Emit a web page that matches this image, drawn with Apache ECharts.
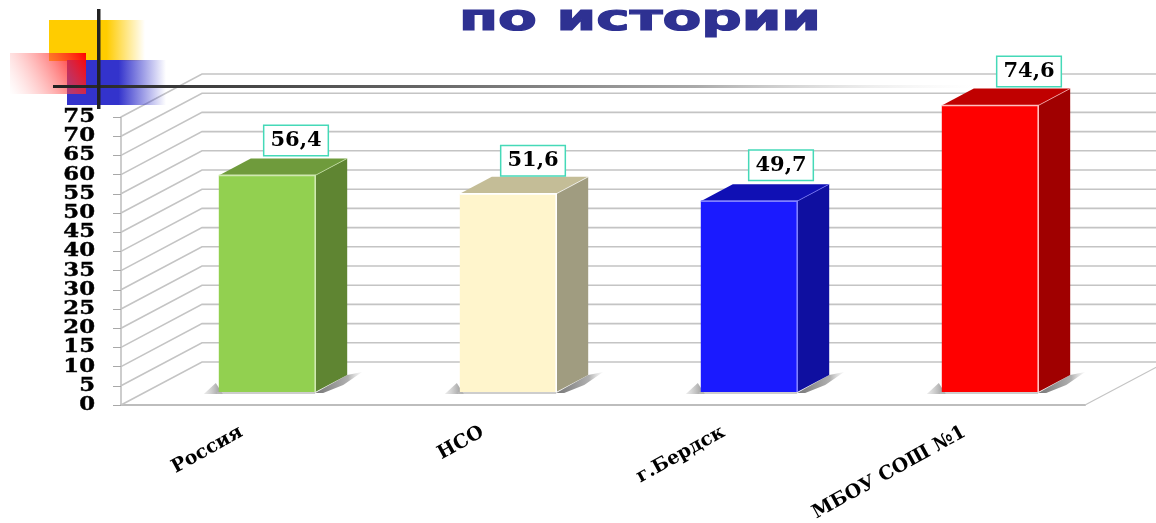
<!DOCTYPE html>
<html>
<head>
<meta charset="utf-8">
<title>по истории</title>
<script src="https://cdn.jsdelivr.net/npm/echarts@6/dist/echarts.min.js"></script>
<style>
  html, body { margin: 0; padding: 0; background: #fff; }
  #chart { width: 1156px; height: 523px; }
</style>
</head>
<body>
<div id="chart"></div>
<script>
const categories = ['Россия', 'НСО', 'г.Бердск', 'МБОУ СОШ №1']
const values = [56.4, 51.6, 49.7, 74.6]
const valueLabels = ['56,4', '51,6', '49,7', '74,6']
const gridTicks = [0, 5, 10, 15, 20, 25, 30, 35, 40, 45, 50, 55, 60, 65, 70, 75]

const frontColors = ['#92d050', '#fff5cc', '#1a1aff', '#ff0000']
const topColors = ['#6f9b3c', '#c4bd97', '#1010b4', '#c00000']
const sideColors = ['#5f8532', '#a09c80', '#0f0fa0', '#a00000']
const edgeColors = ['#cfe8b0', '#ffffff', '#8080ff', '#ffc0c0']
const labelShift = [29, 25, 32, 39]
const labelRise = [35, 33, 36, 34]

const serif = '"DejaVu Serif", "Liberation Serif", serif'
const wallDx = 81, wallDy = -43     // depth of the whole box
const barInX = 25.5, barInY = -13   // where the bar front stands on the floor
const barDx = 32, barDy = -17       // depth of the bar itself

// wall lines and the y numbers: the axis drops labels this tightly packed, so they are drawn here
function renderWall(params, api) {
  const tick = api.value(1)
  const y = api.coord([0, tick])[1]
  const sys = params.coordSys
  const children = [
    {
      type: 'polyline',
      shape: { points: [[sys.x, y], [sys.x + wallDx, y + wallDy], [sys.x + sys.width + wallDx, y + wallDy]] },
      style: { fill: null, stroke: '#c4c4c4', lineWidth: 1.6 }
    },
    {
      type: 'text',
      x: sys.x - 26,
      y: y,
      scaleX: 1.2,
      style: {
        text: String(tick),
        font: 'bold 19px ' + serif,
        fill: '#000',
        stroke: '#000',
        lineWidth: 0.4,
        align: 'right',
        verticalAlign: 'middle'
      }
    }
  ]
  if (tick === 0) {
    children.push({
      type: 'line',
      shape: { x1: sys.x + sys.width, y1: y, x2: sys.x + sys.width + wallDx, y2: y + wallDy },
      style: { stroke: '#c4c4c4', lineWidth: 1.2 }
    })
  }
  return { type: 'group', children }
}

function renderBar(params, api) {
  const i = params.dataIndex
  const base = api.coord([i, 0])
  const top = api.coord([i, api.value(1)])
  const half = api.size([1, 0])[0] * 0.2
  const x0 = base[0] + barInX - half
  const x1 = base[0] + barInX + half
  const yb = base[1] + barInY
  const yt = top[1] + barInY
  return {
    type: 'group',
    children: [
      {
        type: 'polygon',
        shape: { points: [[x0 - 15, yb + 2], [x0 - 3, yb - 9], [x0 + 4, yb + 2]] },
        style: {
          fill: new echarts.graphic.LinearGradient(1, 0, 0, 0, [
            { offset: 0, color: '#8c8c8c' },
            { offset: 1, color: 'rgba(190,190,190,0.3)' }
          ])
        }
      },
      {
        type: 'polygon',
        shape: { points: [[x1, yb + 1], [x1 + barDx, yb + barDy], [x1 + 47, yb - 20], [x1 + 28, yb - 7], [x1 + 8, yb + 1]] },
        style: {
          fill: new echarts.graphic.LinearGradient(0, 0.5, 1, 0.5, [
            { offset: 0, color: '#777' },
            { offset: 0.7, color: '#b0b0b0' },
            { offset: 1, color: 'rgba(220,220,220,0.2)' }
          ])
        }
      },
      {
        type: 'line',
        shape: { x1: x0 - 2, y1: yb + 1, x2: x1, y2: yb + 1 },
        style: { stroke: '#bdbdbd', lineWidth: 1.5 }
      },
      {
        type: 'polygon',
        shape: { points: [[x0, yt], [x1, yt], [x1 + barDx, yt + barDy], [x0 + barDx, yt + barDy]] },
        style: { fill: topColors[i] }
      },
      {
        type: 'polygon',
        shape: { points: [[x1, yt], [x1 + barDx, yt + barDy], [x1 + barDx, yb + barDy], [x1, yb]] },
        style: { fill: sideColors[i] }
      },
      {
        type: 'rect',
        shape: { x: x0, y: yt, width: x1 - x0, height: yb - yt },
        style: { fill: frontColors[i] }
      },
      {
        type: 'polyline',
        shape: { points: [[x0, yt], [x1, yt], [x1, yb]] },
        style: { fill: null, stroke: edgeColors[i], lineWidth: 1.6 }
      },
      {
        type: 'line',
        shape: { x1: x1, y1: yt, x2: x1 + barDx, y2: yt + barDy },
        style: { stroke: edgeColors[i], lineWidth: 1, opacity: 0.7 }
      },
      {
        type: 'text',
        x: x0 + half + labelShift[i],
        y: yt - labelRise[i],
        style: {
          text: valueLabels[i],
          font: 'bold 21px ' + serif,
          fill: '#000',
          align: 'center',
          verticalAlign: 'middle',
          backgroundColor: '#fff',
          borderColor: '#45d9b8',
          borderWidth: 1.5,
          padding: [4, 6, 4, 6]
        }
      }
    ]
  }
}

const chart = echarts.init(document.getElementById('chart'), null, { renderer: 'canvas' })
chart.setOption({
  animation: false,
  backgroundColor: '#fff',
  grid: { left: 121, right: 71, top: 117, bottom: 118, outerBoundsMode: 'none' },
  xAxis: {
    type: 'category',
    data: categories,
    axisLine: { lineStyle: { color: '#bdbdbd', width: 2 } },
    axisTick: { length: 4, lineStyle: { color: '#8a8a8a' } },
    axisLabel: {
      interval: 0,
      rotate: 29,
      margin: 26,
      color: '#000',
      fontFamily: serif,
      fontWeight: 'bold',
      fontSize: 19
    },
    splitLine: { show: false }
  },
  yAxis: {
    type: 'value',
    min: 0,
    max: 75,
    interval: 5,
    axisLine: { show: true, lineStyle: { color: '#bdbdbd', width: 1.5 } },
    axisTick: { show: true, length: 8, lineStyle: { color: '#a8a8a8' } },
    axisLabel: { show: false },
    splitLine: { show: false }
  },
  graphic: [
    {
      type: 'text', x: 459, y: 2.5, scaleX: 1.57, z: 20,
      style: { text: 'по истории', font: 'bold 36px "DejaVu Sans", sans-serif', fill: '#2e3192', stroke: '#2e3192', lineWidth: 1.2 }
    },
    {
      type: 'rect', shape: { x: 49, y: 20, width: 96, height: 41 }, z: 11,
      style: {
        fill: new echarts.graphic.LinearGradient(0, 0, 1, 0, [
          { offset: 0, color: '#ffcc00' }, { offset: 0.6, color: '#ffcc00' }, { offset: 1, color: 'rgba(255,204,0,0)' }
        ])
      }
    },
    {
      type: 'rect', shape: { x: 67, y: 60, width: 99, height: 45 }, z: 11,
      style: {
        fill: new echarts.graphic.LinearGradient(0, 0, 1, 0, [
          { offset: 0, color: '#3333cc' }, { offset: 0.52, color: '#3333cc' }, { offset: 1, color: 'rgba(51,51,204,0)' }
        ])
      }
    },
    {
      type: 'rect', shape: { x: 10, y: 53, width: 76, height: 41 }, z: 12,
      style: {
        fill: new echarts.graphic.LinearGradient(1, 0, 0, 1, [
          { offset: 0, color: '#ff0000' }, { offset: 1, color: 'rgba(255,160,160,0)' }
        ])
      }
    },
    {
      type: 'rect', shape: { x: 53, y: 85, width: 920, height: 3 }, z: 13,
      style: {
        fill: new echarts.graphic.LinearGradient(0, 0, 1, 0, [
          { offset: 0, color: '#222' }, { offset: 0.4, color: '#666' }, { offset: 0.7, color: '#aaa' }, { offset: 1, color: 'rgba(230,230,230,0)' }
        ])
      }
    },
    {
      type: 'rect', shape: { x: 97, y: 9, width: 3.5, height: 100 }, z: 14,
      style: { fill: '#222' }
    }
  ],
  series: [
    {
      type: 'custom',
      z: 1,
      silent: true,
      renderItem: renderWall,
      data: gridTicks.map(t => [0, t])
    },
    {
      type: 'custom',
      z: 5,
      silent: true,
      renderItem: renderBar,
      encode: { x: 0, y: 1 },
      data: values.map((v, i) => [i, v])
    }
  ]
})
</script>
</body>
</html>
